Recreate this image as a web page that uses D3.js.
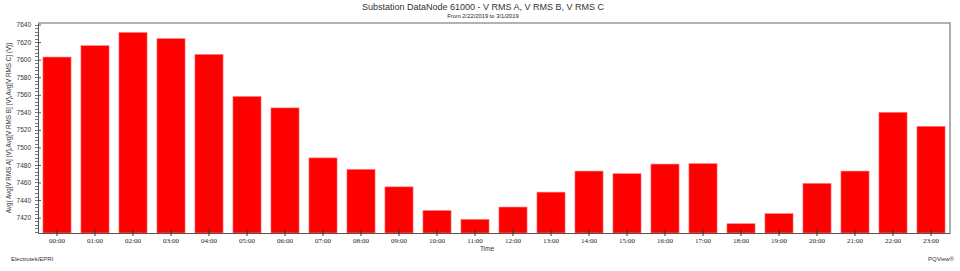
<!DOCTYPE html>
<html>
<head>
<meta charset="utf-8">
<script src="https://cdn.jsdelivr.net/npm/d3@7"></script>
<style>
  body { margin: 0; background: #fff; }
  svg { display: block; font-family: "Liberation Sans", Arial, sans-serif; }
</style>
</head>
<body>
<svg width="960" height="271"></svg>
<script>
var hours = ['00:00', '01:00', '02:00', '03:00', '04:00', '05:00', '06:00', '07:00',
    '08:00', '09:00', '10:00', '11:00', '12:00', '13:00', '14:00', '15:00',
    '16:00', '17:00', '18:00', '19:00', '20:00', '21:00', '22:00', '23:00'];
var avgVolts = [7603, 7616, 7631, 7624, 7606, 7558, 7545, 7488,
    7475, 7455, 7428, 7418, 7432, 7449, 7473, 7470,
    7481, 7481.5, 7413, 7424.5, 7459, 7473, 7540, 7524];
var yTicks = [7420, 7440, 7460, 7480, 7500, 7520, 7540, 7560, 7580, 7600, 7620, 7640];

var svg = d3.select('svg');
var pLeft = 38, pRight = 950, pTop = 23, pBottom = 233;

var x = d3.scaleBand()
    .domain(hours)
    .range([pLeft, pRight])
    .paddingInner(0.26)
    .paddingOuter(0.13);

var y = d3.scaleLinear()
    .domain([7402.4, 7641.8])
    .range([pBottom, pTop]);

// bars
svg.append('g').selectAll('rect')
    .data(avgVolts)
    .enter()
    .append('rect')
    .attr('x', function (d, i) { return x(hours[i]); })
    .attr('y', function (d) { return y(d); })
    .attr('width', x.bandwidth())
    .attr('height', function (d) { return pBottom - y(d); })
    .style('fill', '#ff0000')
    .style('stroke', '#ff8080')
    .style('stroke-width', 0.6);

// frame top / right
svg.append('path')
    .attr('d', 'M' + pLeft + ',' + pTop + 'H' + pRight + 'V' + pBottom)
    .style('fill', 'none')
    .style('stroke', '#999')
    .style('stroke-width', 1.6);

// minor y ticks
var minor = d3.range(7404, 7641, 4);
svg.append('g').selectAll('line')
    .data(minor)
    .enter()
    .append('line')
    .attr('x1', pLeft - 3).attr('x2', pLeft)
    .attr('y1', function (d) { return Math.round(y(d)) + 0.5; })
    .attr('y2', function (d) { return Math.round(y(d)) + 0.5; })
    .style('stroke', '#555')
    .style('stroke-width', 0.8);

var yAxis = svg.append('g')
    .attr('transform', 'translate(' + pLeft + ',0)')
    .call(d3.axisLeft(y).tickValues(yTicks).tickSize(5).tickSizeOuter(0)
        .tickFormat(d3.format('d')));
yAxis.select('.domain').style('stroke', '#555');
yAxis.selectAll('.tick line').attr('x2', 3).style('stroke', '#555');
yAxis.selectAll('.tick text')
    .attr('x', -7)
    .style('font-size', '6.5px')
    .style('fill', '#333');

var xAxis = svg.append('g')
    .attr('transform', 'translate(0,' + pBottom + ')')
    .call(d3.axisBottom(x).tickSize(4).tickSizeOuter(0));
xAxis.select('.domain').style('stroke', '#555').style('stroke-width', 1.2);
xAxis.selectAll('.tick line').attr('y1', -4).attr('y2', 3).style('stroke', '#333');
xAxis.selectAll('.tick text')
    .attr('y', 5)
    .style('font-family', '"Liberation Serif", serif')
    .style('font-size', '7px')
    .style('fill', '#222');

// texts
svg.append('text')
    .attr('x', 483).attr('y', 10)
    .attr('text-anchor', 'middle')
    .style('font-size', '9px')
    .style('fill', '#333')
    .text('Substation DataNode 61000 - V RMS A, V RMS B, V RMS C');

svg.append('text')
    .attr('x', 483).attr('y', 18)
    .attr('text-anchor', 'middle')
    .style('font-size', '5.8px')
    .style('fill', '#222')
    .text('From 2/22/2019 to 3/1/2019');

svg.append('text')
    .attr('x', 487).attr('y', 251)
    .attr('text-anchor', 'middle')
    .style('font-size', '6.5px')
    .style('fill', '#333')
    .text('Time');

svg.append('text')
    .attr('transform', 'translate(11,' + (pTop + pBottom) / 2 + ') rotate(-90)')
    .attr('text-anchor', 'middle')
    .style('font-size', '6.3px')
    .style('fill', '#333')
    .text('Avg( Avg[V RMS A] (V),Avg[V RMS B] (V),Avg[V RMS C] (V))');

svg.append('text')
    .attr('x', 11).attr('y', 261)
    .style('font-size', '6px')
    .style('fill', '#333')
    .text('Electrotek/EPRI');

svg.append('text')
    .attr('x', 954).attr('y', 261)
    .attr('text-anchor', 'end')
    .style('font-size', '6px')
    .style('fill', '#333')
    .text('PQView®');
</script>
</body>
</html>
